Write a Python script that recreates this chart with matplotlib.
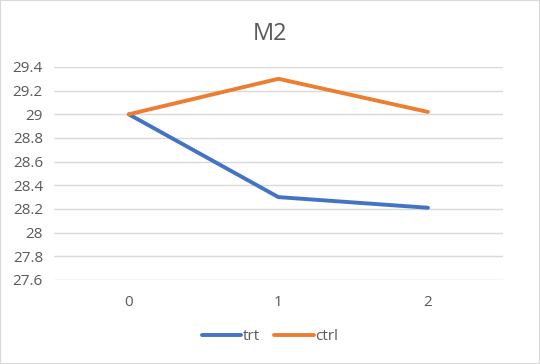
import matplotlib
matplotlib.use("Agg")
import matplotlib.pyplot as plt
from matplotlib.patches import Rectangle

plt.rcParams["font.family"] = ["Open Sans", "DejaVu Sans"]

categories = [0, 1, 2]
trt = [29.0, 28.3, 28.21]
ctrl = [29.0, 29.3, 29.02]
yticks = [27.6, 27.8, 28.0, 28.2, 28.4, 28.6, 28.8, 29.0, 29.2, 29.4]
ytick_labels = ["27.6", "27.8", "28", "28.2", "28.4", "28.6", "28.8", "29", "29.2", "29.4"]

TXT = "#595959"
fig = plt.figure(figsize=(5.4, 3.64), dpi=100)
fig.patches.append(Rectangle((0, 0), 1, 1, transform=fig.transFigure, fill=False,
                             edgecolor="#d9d9d9", linewidth=1.5))
ax = fig.add_axes([0.1, 0.231, 0.831, 0.585])

ax.plot(categories, trt, color="#4472C4", linewidth=2.8, label="trt", solid_capstyle="round")
ax.plot(categories, ctrl, color="#ED7D31", linewidth=2.8, label="ctrl", solid_capstyle="round")

ax.set_xlim(-0.5, 2.5)
ax.set_ylim(27.6, 29.4)
ax.set_yticks(yticks)
ax.set_yticklabels(ytick_labels)
ax.set_xticks(categories)
ax.set_xticklabels([str(c) for c in categories])
ax.grid(axis="y", color="#d9d9d9", linewidth=1)
ax.set_axisbelow(True)
for s in ax.spines.values():
    s.set_visible(False)
ax.tick_params(length=0, colors=TXT, labelsize=11)
ax.tick_params(axis="x", pad=11)
ax.tick_params(axis="y", pad=8)

fig.suptitle("M2", x=0.5, y=0.94, fontsize=17, color=TXT)
fig.legend(loc="center", bbox_to_anchor=(0.5, 0.075), ncol=2, frameon=False,
           fontsize=11, labelcolor=TXT, handlelength=2.6, handletextpad=0.1,
           columnspacing=0.9)

fig.savefig("out.png", dpi=100, facecolor="white")
